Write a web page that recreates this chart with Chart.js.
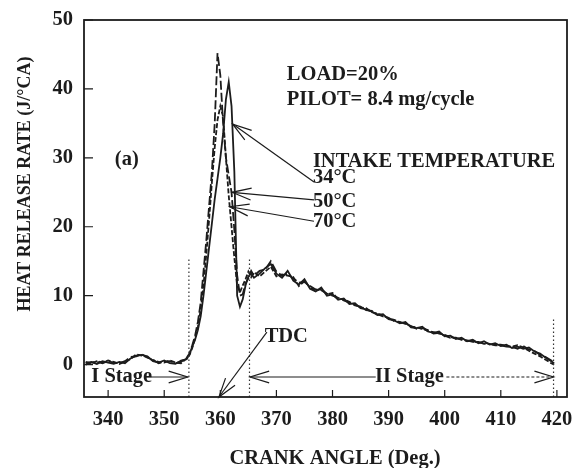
<!DOCTYPE html>
<html>
<head>
<meta charset="utf-8">
<script src="https://cdn.jsdelivr.net/npm/chart.js@4/dist/chart.umd.min.js"></script>
<style>
  html, body { margin: 0; padding: 0; background: #fff; }
  #wrap { width: 573px; height: 468px; }
</style>
</head>
<body>
<div id="wrap"><canvas id="hrrChart" width="573" height="468"></canvas></div>
<script>
// crank angle (deg) shared by the three curves
const crankAngles = [
  336, 337, 338, 339, 340, 341, 342, 343, 344, 345, 346, 347, 348, 349, 350, 351, 352, 353, 354,
  354.5, 355, 355.5, 356, 356.5, 357, 357.5, 358, 358.5, 359, 359.5, 360, 360.5, 361, 361.5, 362,
  362.5, 363, 363.5, 364, 364.5, 365, 365.5, 366,
  367, 368, 369, 370, 371, 372, 373, 374, 375, 376, 377, 378, 379, 380, 381, 382, 383, 384, 385,
  386, 387, 388, 389, 390, 391, 392, 393, 394, 395, 396, 397, 398, 399, 400, 401, 402, 403, 404,
  405, 406, 407, 408, 409, 410, 411, 412, 413, 414, 415, 416, 417, 418, 419, 419.5
];

// heat release rate (J/°CA), intake temperature 34°C
const hrr34 = [
  0.2, 0.4, 0.1, 0.5, 0.3, 0.1, 0.4, 0.2, 0.9, 1.3, 1.4, 1.2, 0.5, 0.3, 0.6, 0.2, 0.1, 0.6, 0.8,
  1.5, 2.6, 3.6, 5.0, 7.0, 10, 13.5, 17, 20.5, 24, 27, 30, 33.5, 38.5, 41, 37.5,
  28, 10, 8.4, 9.5, 11.5, 12.8, 13.2, 12.6,
  13.2, 14.0, 14.6, 13.2, 12.6, 13.6, 12.2, 11.6, 12.4, 11.0, 10.6, 11.2, 10.0, 10.2, 9.4, 9.6, 8.8, 8.9, 8.2,
  8.0, 7.7, 7.2, 7.3, 6.6, 6.4, 6.0, 6.2, 5.4, 5.3, 5.5, 4.8, 4.6, 4.8, 4.1, 4.2, 3.7, 3.9, 3.4,
  3.6, 3.1, 3.4, 2.9, 3.1, 2.7, 2.9, 2.4, 2.6, 2.3, 2.5, 1.9, 1.6, 1.0, 0.5, 0.2
];

// intake temperature 50°C
const hrr50 = [
  0.0, 0.3, 0.4, 0.2, 0.5, 0.3, 0.2, 0.5, 1.1, 1.2, 1.5, 1.0, 0.7, 0.2, 0.4, 0.5, 0.2, 0.4, 1.0,
  1.6, 2.8, 4.2, 6.2, 9.0, 13.5, 18, 23, 28, 35, 45.2, 42, 35, 30, 27.5, 25,
  19.5, 13, 10, 10.2, 11.8, 12.5, 13.6, 12.9,
  13.6, 13.8, 15.0, 13.5, 12.9, 13.2, 12.5, 11.9, 12.0, 11.4, 10.9, 10.8, 10.3, 10.0, 9.7, 9.3, 9.0, 8.6, 8.4,
  7.9, 7.8, 7.3, 7.0, 6.8, 6.3, 6.2, 5.9, 5.6, 5.2, 5.3, 5.0, 4.5, 4.6, 4.2, 3.9, 3.9, 3.6, 3.5,
  3.3, 3.3, 3.0, 3.0, 2.8, 2.8, 2.6, 2.6, 2.3, 2.7, 2.2, 2.0, 1.4, 1.1, 0.6, 0.3
];

// intake temperature 70°C
const hrr70 = [
  0.4, 0.2, 0.5, 0.3, 0.6, 0.4, 0.1, 0.4, 0.8, 1.5, 1.3, 1.1, 0.6, 0.4, 0.3, 0.6, 0.3, 0.2, 0.9,
  1.4, 2.4, 3.8, 5.5, 8.0, 11.5, 16, 21, 26.5, 31.5, 35.5, 37.5, 36, 30, 24.5, 20,
  15.5, 11.5, 10.5, 11.5, 12.4, 13.5, 12.7, 13.4,
  12.8, 13.5, 14.2, 12.8, 13.1, 12.9, 12.7, 11.4, 12.1, 11.2, 10.7, 11.0, 10.2, 10.4, 9.5, 9.5, 9.1, 8.7, 8.3,
  8.2, 7.6, 7.4, 7.1, 6.7, 6.5, 6.1, 6.0, 5.5, 5.4, 5.2, 4.9, 4.7, 4.5, 4.3, 4.0, 3.8, 3.7, 3.4,
  3.4, 3.2, 3.2, 3.0, 2.9, 2.9, 2.7, 2.6, 2.8, 2.5, 2.0, 1.6, 1.2, 0.7, 0.2, 0.0
];

const xTicks = [340, 350, 360, 370, 380, 390, 400, 410, 420];
const yTicks = [0, 10, 20, 30, 40, 50];

// dotted stage boundaries: angle and how high the marker goes
const stageBounds = [354.4, 365.2, 419.4];
const stageBoundTops = [15.6, 15.3, 6.7];

const X_MIN = 335.7, X_MAX = 421.8, Y_MIN = -4.7, Y_MAX = 50;
const SERIF = '"Liberation Serif", "Times New Roman", serif';
const FONT = 'bold 20.5px ' + SERIF;
const INK = '#1c1c1c';

// annotations, placed in data units
const notes = [
  { text: 'LOAD=20%', x: 371.85, y: 42.0 },
  { text: 'PILOT= 8.4 mg/cycle', x: 371.85, y: 38.4 },
  { text: '(a)', x: 341.2, y: 29.7 },
  { text: 'INTAKE TEMPERATURE', x: 376.5, y: 29.4 },
  { text: '34°C', x: 376.5, y: 27.1 },
  { text: '50°C', x: 376.5, y: 23.6 },
  { text: '70°C', x: 376.5, y: 20.7 },
  { text: 'TDC', x: 367.9, y: 4.0 },
  { text: 'I Stage', x: 337.0, y: -1.8 },
  { text: 'II Stage', x: 393.7, y: -1.8, center: true },
];

const pointers = [
  { from: [376.7, 26.5], to: [362.2, 34.9] },
  { from: [376.7, 23.9], to: [362.1, 25.0] },
  { from: [376.7, 20.8], to: [361.7, 22.9] },
  { from: [368.3, 4.7], to: [359.75, -4.7] },
  { from: [346.6, -1.8], to: [354.2, -1.8] },
  { from: [387.7, -1.8], to: [365.3, -1.8] },
  { from: [400.3, -1.8], to: [419.4, -1.8], dash: [3, 2] },
];

const toPoints = (ys) => crankAngles.map((a, i) => ({ x: a, y: ys[i] }));

const drawHead = (ctx, x1, y1, x2, y2, len, spread) => {
  const a = Math.atan2(y2 - y1, x2 - x1);
  ctx.beginPath();
  ctx.moveTo(x2 - len * Math.cos(a - spread), y2 - len * Math.sin(a - spread));
  ctx.lineTo(x2, y2);
  ctx.lineTo(x2 - len * Math.cos(a + spread), y2 - len * Math.sin(a + spread));
  ctx.stroke();
};

const decorPlugin = {
  id: 'decor',
  afterDatasetsDraw(chart) {
    const { ctx, chartArea: area, scales } = chart;
    const px = (v) => scales.x.getPixelForValue(v);
    const py = (v) => scales.y.getPixelForValue(v);

    ctx.save();
    ctx.strokeStyle = INK;
    ctx.lineWidth = 1.8;
    ctx.strokeRect(area.left, area.top, area.right - area.left, area.bottom - area.top);

    // inward ticks
    ctx.lineWidth = 1.2;
    ctx.beginPath();
    yTicks.forEach((v) => {
      ctx.moveTo(area.left, py(v));
      ctx.lineTo(area.left + 9, py(v));
    });
    xTicks.forEach((v) => {
      ctx.moveTo(px(v), area.bottom);
      ctx.lineTo(px(v), area.bottom - 7);
    });
    ctx.stroke();

    // pointer lines
    ctx.lineWidth = 1.2;
    pointers.forEach((p) => {
      const x1 = px(p.from[0]), y1 = py(p.from[1]);
      const x2 = px(p.to[0]), y2 = py(p.to[1]);
      ctx.setLineDash(p.dash || []);
      ctx.beginPath();
      ctx.moveTo(x1, y1);
      ctx.lineTo(x2, y2);
      ctx.stroke();
      ctx.setLineDash([]);
      drawHead(ctx, x1, y1, x2, y2, 20, 0.3);
    });

    // texts
    ctx.fillStyle = INK;
    ctx.font = FONT;
    ctx.textBaseline = 'middle';
    notes.forEach((n) => {
      ctx.textAlign = n.center ? 'center' : 'left';
      ctx.fillText(n.text, px(n.x), py(n.y));
    });

    // axis titles
    ctx.textAlign = 'center';
    ctx.fillText('CRANK ANGLE (Deg.)', 335, 459);
    ctx.translate(25, 184);
    ctx.rotate(-Math.PI / 2);
    ctx.font = 'bold 18px ' + SERIF;
    ctx.fillText('HEAT RELEASE RATE (J/°CA)', 0, 0);
    ctx.restore();
  },
};

const curve = (label, ys, dash) => ({
  label,
  data: toPoints(ys),
  borderColor: INK,
  borderWidth: 1.8,
  borderDash: dash,
  pointRadius: 0,
  tension: 0,
});

const boundarySets = stageBounds.map((a, i) => ({
  label: 'bound' + i,
  data: [{ x: a, y: Y_MIN }, { x: a, y: stageBoundTops[i] }],
  borderColor: '#333',
  borderWidth: 1.2,
  borderDash: [1.5, 2.5],
  pointRadius: 0,
}));

const tickFont = { family: SERIF, size: 20.5, weight: 'bold' };

new Chart(document.getElementById('hrrChart'), {
  type: 'line',
  data: {
    datasets: [
      ...boundarySets,
      curve('34°C', hrr34, []),
      curve('50°C', hrr50, [9, 3]),
      curve('70°C', hrr70, [5, 2]),
    ],
  },
  options: {
    responsive: false,
    animation: false,
    devicePixelRatio: 1,
    layout: { padding: { left: 0, right: 6, top: 20, bottom: 0 } },
    plugins: { legend: { display: false }, tooltip: { enabled: false } },
    scales: {
      x: {
        type: 'linear',
        min: X_MIN,
        max: X_MAX,
        afterBuildTicks: (s) => { s.ticks = xTicks.map((v) => ({ value: v })); },
        afterFit: (s) => { s.height = 71; s.paddingLeft = 0; s.paddingRight = 0; },
        grid: { display: false, drawTicks: false },
        border: { display: false },
        ticks: { color: INK, padding: 10, maxRotation: 0, font: tickFont },
      },
      y: {
        min: Y_MIN,
        max: Y_MAX,
        afterBuildTicks: (s) => { s.ticks = yTicks.map((v) => ({ value: v })); },
        afterFit: (s) => { s.width = 84; s.paddingTop = 0; s.paddingBottom = 0; },
        grid: { display: false, drawTicks: false },
        border: { display: false },
        ticks: { color: INK, padding: 11, font: tickFont },
      },
    },
  },
  plugins: [decorPlugin],
});
</script>
</body>
</html>
